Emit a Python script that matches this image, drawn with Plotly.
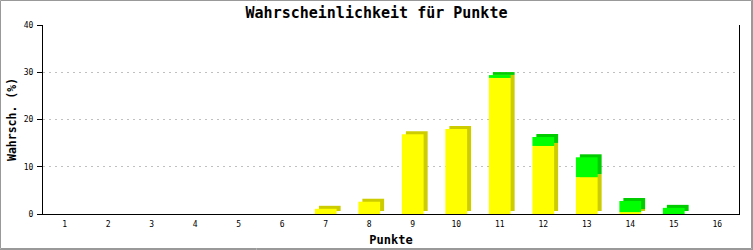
import plotly.graph_objects as go

# Data
punkte = list(range(1, 17))
yellow = [0, 0, 0, 0, 0, 0, 1.1, 2.6, 16.9, 18.0, 28.8, 14.4, 7.8, 0.4, 0, 0]
green = [0, 0, 0, 0, 0, 0, 0, 0, 0, 0, 0.6, 1.9, 4.2, 2.35, 1.3, 0]
x_ticks = [str(p) for p in punkte]
y_ticks = [0, 10, 20, 30, 40]

title_text = "Wahrscheinlichkeit für Punkte"
x_title = "Punkte"
y_title = "Wahrsch. (%)"

# Layout constants (pixels)
W, H = 753, 250
ML, MR, MT, MB = 43, 14, 25, 36
PW, PH = W - ML - MR, H - MT - MB
XR = [0.5, 16.5]
YR = [0, 40]
DX = 4 * (XR[1] - XR[0]) / PW   # depth in x data units
DY = 3 * (YR[1] - YR[0]) / PH   # depth in y data units
BW = 0.5

Y1, Y2 = "#FFFF00", "#CCCC00"
G1, G2 = "#00FF00", "#00CC00"

fig = go.Figure()
# 3D depth faces (behind)
fig.add_trace(go.Bar(x=punkte, y=yellow, base=[DY] * len(punkte), width=BW,
                     offset=-BW / 2 + DX, marker=dict(color=Y2, line=dict(width=0)),
                     hoverinfo="skip"))
fig.add_trace(go.Bar(x=punkte, y=green, base=[v + DY for v in yellow], width=BW,
                     offset=-BW / 2 + DX, marker=dict(color=G2, line=dict(width=0)),
                     hoverinfo="skip"))
# Front faces
fig.add_trace(go.Bar(x=punkte, y=yellow, base=[0] * len(punkte), width=BW,
                     offset=-BW / 2, marker=dict(color=Y1, line=dict(width=0))))
fig.add_trace(go.Bar(x=punkte, y=green, base=yellow, width=BW,
                     offset=-BW / 2, marker=dict(color=G1, line=dict(width=0))))

mono = "DejaVu Sans Mono"

fig.update_layout(
    width=W, height=H,
    margin=dict(l=ML, r=MR, t=MT, b=MB, pad=0, autoexpand=False),
    paper_bgcolor="white", plot_bgcolor="white",
    barmode="overlay", showlegend=False,
    title=dict(text="<b>" + title_text + "</b>", x=0.5, xanchor="center", xref="container",
               y=1 - 13 / H, yanchor="middle", yref="container",
               font=dict(family=mono, size=15, color="black")),
    xaxis=dict(range=XR, tickvals=punkte, ticktext=x_ticks, ticks="",
               showline=True, linecolor="black", linewidth=1, mirror=False,
               showgrid=False, zeroline=False, automargin=False, ticklabelstandoff=2,
               tickfont=dict(family=mono, size=8, color="black"),
               title=dict(text="<b>" + x_title + "</b>", standoff=8,
                          font=dict(family=mono, size=12, color="black"))),
    yaxis=dict(range=YR, tickvals=y_ticks, ticks="outside", ticklen=5, tickcolor="black",
               tickwidth=1, showline=True, linecolor="black", linewidth=1, mirror=True,
               showgrid=True, gridcolor="#C0C0C0", griddash="2px,4px", gridwidth=1,
               zeroline=False, ticklabelstandoff=2, automargin=False,
               tickfont=dict(family=mono, size=8, color="black"),
               title=dict(text="<b>" + y_title + "</b>", standoff=4,
                          font=dict(family=mono, size=11.5, color="black"))),
)

# image border
def px_x(p):
    return (p - ML) / PW

def px_y(p):
    return (H - MB - p) / PH

fig.add_shape(type="rect", xref="paper", yref="paper",
              x0=px_x(0.5), x1=px_x(751.5), y0=px_y(248.5), y1=px_y(0.5),
              line=dict(color="#999999", width=1), layer="above")
fig.add_shape(type="line", xref="paper", yref="paper",
              x0=px_x(752.5), x1=px_x(752.5), y0=px_y(250), y1=px_y(0),
              line=dict(color="#999999", width=1), layer="above")
fig.add_shape(type="line", xref="paper", yref="paper",
              x0=px_x(0), x1=px_x(753), y0=px_y(249.5), y1=px_y(249.5),
              line=dict(color="#999999", width=1), layer="above")

fig.write_html("out.html")
